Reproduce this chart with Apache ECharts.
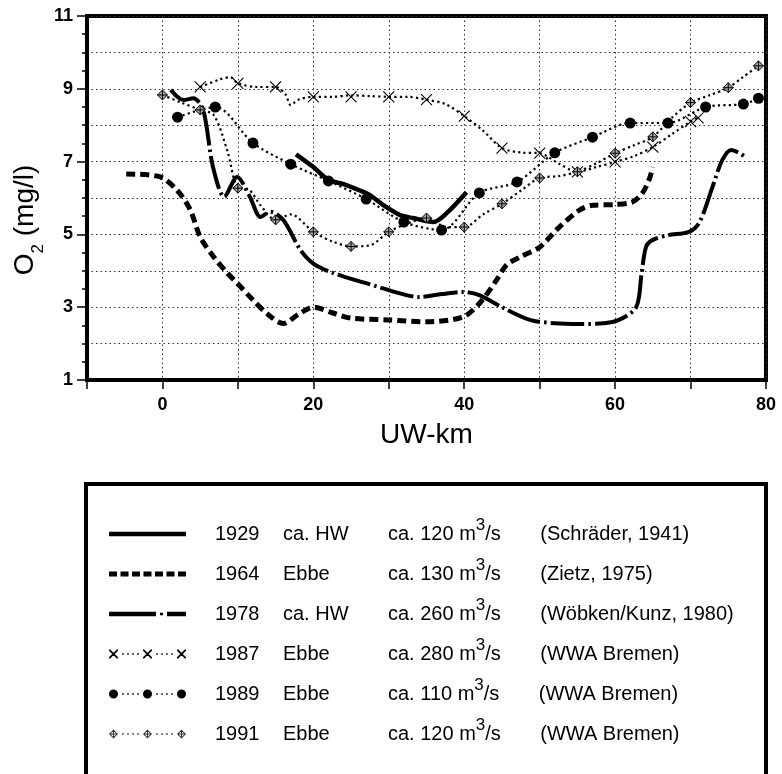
<!DOCTYPE html>
<html>
<head>
<meta charset="utf-8">
<script src="https://cdn.jsdelivr.net/npm/echarts@6/dist/echarts.min.js"></script>
<style>
  html, body { margin: 0; padding: 0; background: #fff; }
  #chart { width: 782px; height: 774px; }
</style>
</head>
<body>
<div id="chart"></div>
<script>
// Oxygen (mg/l) along the Weser, by UW-km, for six surveys.

// 1929, ca. HW (Schräder, 1941)
const x1929 = [17.7, 20, 22, 24, 26, 27.5, 29.3, 31.5, 33.2, 35.9, 37.7, 40.3];
const y1929 = [7.2, 6.85, 6.5, 6.38, 6.22, 6.08, 5.8, 5.53, 5.45, 5.34, 5.59, 6.16];

// 1964, Ebbe (Zietz, 1975)
const x1964 = [-4.8, -0.3, 2, 3.7, 5, 6.8, 8.6, 9.9, 12, 14, 16, 18, 20, 22.6, 25, 30, 35, 39.8, 42, 44.3, 45.6, 47.4, 50, 52.6, 55.3, 57, 60, 62.3, 63.6, 64.5, 65];
const y1964 = [6.66, 6.58, 6.2, 5.67, 4.93, 4.38, 3.94, 3.66, 3.2, 2.8, 2.55, 2.8, 3.0, 2.84, 2.7, 2.65, 2.6, 2.73, 3.1, 3.75, 4.16, 4.38, 4.65, 5.2, 5.67, 5.8, 5.82, 5.89, 6.13, 6.5, 6.85];

// 1978, ca. HW (Wöbken/Kunz, 1980)
const x1978 = [1.1, 2.8, 4.1, 5.4, 6.7, 8.2, 9.9, 11.6, 13, 14.3, 16, 18.3, 20, 22.6, 27, 31.5, 34, 37, 39.8, 42, 45, 48.7, 52, 55.3, 58, 60.5, 62.8, 63.5, 64.1, 65, 67, 69.8, 71.2, 72.9, 74.2, 75.4, 77.5];
const y1978 = [8.97, 8.69, 8.74, 8.42, 6.85, 6.03, 6.58, 6.03, 5.48, 5.62, 5.4, 4.57, 4.2, 3.94, 3.66, 3.38, 3.28, 3.36, 3.42, 3.33, 3.0, 2.65, 2.56, 2.54, 2.55, 2.65, 3.0, 3.9, 4.66, 4.85, 4.98, 5.07, 5.34, 6.3, 7.04, 7.32, 7.1];

// 1987, Ebbe (WWA Bremen): curve and measuring stations
const x1987 = [5, 7.5, 9, 10, 12.5, 15, 16.3, 17, 18, 20, 22.5, 25, 27.5, 30, 32.5, 35, 37.5, 40, 42.5, 45, 47.5, 50, 52.5, 55, 57.5, 60, 62.5, 65, 67.5, 70, 71];
const y1987 = [9.05, 9.25, 9.32, 9.15, 9.05, 9.05, 8.85, 8.55, 8.7, 8.78, 8.78, 8.82, 8.8, 8.78, 8.78, 8.7, 8.58, 8.25, 7.85, 7.37, 7.25, 7.23, 6.95, 6.72, 6.85, 6.99, 7.15, 7.4, 7.75, 8.1, 8.2];
const s1987x = [5, 10, 15, 20, 25, 30, 35, 40, 45, 50, 55, 60, 65, 70, 71];
const s1987y = [9.05, 9.15, 9.05, 8.78, 8.78, 8.78, 8.7, 8.25, 7.37, 7.23, 6.72, 6.99, 7.4, 8.1, 8.2];

// 1989, Ebbe (WWA Bremen)
const x1989 = [2, 7, 12, 17, 22, 27, 32, 37, 42, 47, 52, 57, 62, 67, 72, 77, 79];
const y1989 = [8.22, 8.5, 7.51, 6.93, 6.47, 5.97, 5.34, 5.12, 6.14, 6.44, 7.24, 7.67, 8.06, 8.06, 8.5, 8.58, 8.74];

// 1991, Ebbe (WWA Bremen): curve and measuring stations
const x1991 = [0, 2.5, 5, 6.8, 8.6, 10, 11.5, 13, 15, 17, 20, 22.6, 25, 27.5, 30, 32.5, 35, 37.7, 40, 42.5, 45, 47.5, 50, 52.5, 55, 57.5, 60, 62.5, 65, 67.5, 70, 72.5, 75, 77, 79];
const y1991 = [8.83, 8.62, 8.42, 8.28, 7.3, 6.27, 6.22, 5.8, 5.4, 5.55, 5.07, 4.8, 4.67, 4.7, 5.07, 5.3, 5.45, 5.2, 5.2, 5.55, 5.84, 6.2, 6.55, 6.6, 6.72, 6.95, 7.23, 7.45, 7.68, 8.2, 8.62, 8.82, 9.03, 9.33, 9.63];
const s1991x = [0, 5, 10, 15, 20, 25, 30, 35, 40, 45, 50, 55, 60, 65, 70, 75, 79];
const s1991y = [8.83, 8.42, 6.27, 5.4, 5.07, 4.67, 5.07, 5.45, 5.2, 5.84, 6.55, 6.72, 7.23, 7.68, 8.62, 9.03, 9.63];

// Legend table columns
const years   = ['1929', '1964', '1978', '1987', '1989', '1991'];
const tides   = ['ca. HW', 'Ebbe', 'ca. HW', 'Ebbe', 'Ebbe', 'Ebbe'];
const flows   = ['120', '130', '260', '280', '110', '120'];
const sources = ['(Schräder, 1941)', '(Zietz, 1975)', '(Wöbken/Kunz, 1980)', '(WWA Bremen)', '(WWA Bremen)', '(WWA Bremen)'];

// x tick labels shown every 20 km
const xLabelStep = 20;

const pts = (xs, ys) => xs.map((x, i) => [x, ys[i]]);

const FONT = "'Liberation Sans', Arial, Helvetica, sans-serif";

// ---- legend sample glyphs (filled paths, 77 px wide) ----
const R = (x, y, w, h) => `M${x} ${y}h${w}v${h}h${-w}Z`;
function dotRow(x0, x1, cy) {
  let p = '';
  const n = Math.max(2, Math.round((x1 - x0) / 4.6));
  const st = (x1 - x0) / n;
  for (let i = 1; i < n; i++) { const cx = x0 + i * st; p += R(cx - 0.8, cy - 0.8, 1.6, 1.6); }
  return p;
}
function xMark(cx, cy, r, t) {
  const a = cx - r, b = cy - r, s = 2 * r;
  return `M${a} ${b}L${a + t} ${b}L${a + s} ${b + s - t}L${a + s} ${b + s}L${a + s - t} ${b + s}L${a} ${b + t}Z` +
         `M${a + s - t} ${b}L${a + s} ${b}L${a + s} ${b + t}L${a + t} ${b + s}L${a} ${b + s}L${a} ${b + s - t}Z`;
}
function disc(cx, cy, r) {
  return `M${cx - r} ${cy}A${r} ${r} 0 1 1 ${cx + r} ${cy}A${r} ${r} 0 1 1 ${cx - r} ${cy}Z`;
}
function rhomb(cx, cy, r) {
  const ri = r - 1.3;
  return `M${cx} ${cy - r}L${cx + r} ${cy}L${cx} ${cy + r}L${cx - r} ${cy}Z` +
         `M${cx} ${cy - ri}L${cx - ri} ${cy}L${cx} ${cy + ri}L${cx + ri} ${cy}Z` +
         R(cx - 0.5, cy - ri, 1, 2 * ri) + R(cx - ri, cy - 0.5, 2 * ri, 1);
}
function markedRow(mark, r) {
  const c = [r, 38.5, 77 - r];
  return mark(c[0], 4.5, r, 1.2) + dotRow(c[0] + r, c[1] - r, 4.5) + mark(c[1], 4.5, r, 1.2) +
         dotRow(c[1] + r, c[2] - r, 4.5) + mark(c[2], 4.5, r, 1.2);
}
let dashes = '';
for (let i = 0; i < 7; i++) dashes += R(i * 11.5, 0, 8, 5);
const icons = [
  'path://' + R(0, 0, 77, 4.5),
  'path://' + dashes,
  'path://' + R(0, 0, 47, 4.5) + R(51, 1, 3, 2.5) + R(58, 0, 19, 4.5),
  'path://' + markedRow(xMark, 4.5),
  'path://' + markedRow((cx, cy, r) => disc(cx, cy, r), 4.5),
  'path://' + markedRow((cx, cy, r) => rhomb(cx, cy, r), 4.5)
];

const gridLine = { show: true, lineStyle: { color: '#333', width: 1, type: [1.5, 3] } };
const dotted = { color: '#000', width: 2.2, type: [2.2, 3.2] };
const tickFont = { fontSize: 18, fontWeight: 'bold', color: '#000', fontFamily: FONT };

const chart = echarts.init(document.getElementById('chart'), null, { renderer: 'canvas' });
chart.setOption({
  animation: false,
  backgroundColor: '#fff',
  textStyle: { fontFamily: FONT, color: '#000' },
  grid: {
    left: 87, top: 16, width: 679, height: 364,
    show: true, borderColor: '#000', borderWidth: 4, backgroundColor: 'transparent',
    outerBoundsMode: 'none'
  },
  xAxis: {
    type: 'value', min: -10, max: 80, interval: 10,
    name: 'UW-km', nameLocation: 'middle', nameGap: 41, nameMoveOverlap: false,
    nameTextStyle: { fontSize: 28, color: '#000', fontFamily: FONT },
    axisLine: { show: true, onZero: false, lineStyle: { color: '#000', width: 4 } },
    axisTick: { show: true, length: 9, lineStyle: { color: '#000', width: 1.5 } },
    axisLabel: Object.assign({ show: true, margin: 16,
      formatter: v => (v % xLabelStep === 0 ? String(v) : '') }, tickFont),
    splitLine: gridLine
  },
  yAxis: [
    {
      type: 'value', min: 1, max: 11, interval: 1,
      axisLine: { show: true, onZero: false, lineStyle: { color: '#000', width: 4 } },
      axisTick: { show: true, length: 5, lineStyle: { color: '#000', width: 1.5 } },
      minorTick: { show: true, splitNumber: 2, length: 5, lineStyle: { color: '#000', width: 1.5 } },
      axisLabel: { show: false },
      splitLine: gridLine
    },
    {
      type: 'value', min: 1, max: 11, interval: 2, position: 'left', offset: 0,
      name: '{o|O}{s|2}{o| (mg/l)}', nameLocation: 'middle', nameGap: 40, nameMoveOverlap: false,
      nameTextStyle: {
        color: '#000', fontFamily: FONT, padding: [0, 44, 0, 0],
        rich: {
          o: { fontSize: 28, lineHeight: 44, fontFamily: FONT, color: '#000' },
          s: { fontSize: 17, lineHeight: 16, verticalAlign: 'bottom', fontFamily: FONT, color: '#000' }
        }
      },
      axisLine: { show: false, onZero: false },
      axisTick: { show: true, length: 10, lineStyle: { color: '#000', width: 1.5 } },
      axisLabel: Object.assign({ show: true, margin: 14 }, tickFont),
      splitLine: { show: false }
    }
  ],
  legend: {
    left: 109, top: 517, orient: 'vertical', padding: 0,
    itemWidth: 77, itemHeight: 12, itemGap: 13,
    selectedMode: false, symbolKeepAspect: true,
    itemStyle: { borderWidth: 0 },
    data: years.map((y, i) => ({ name: y, icon: icons[i], itemStyle: { color: i === 5 ? '#333' : '#000', borderWidth: 0 } })),
    formatter: name => {
      const i = years.indexOf(name);
      return `{sp|}{y|${name}}{t|${tides[i]}}{f|ca. ${flows[i]} m}{s|3}{u|/s}{r|${sources[i]}}`;
    },
    textStyle: {
      fontFamily: FONT, color: '#000', fontSize: 20,
      rich: {
        sp: { width: 24, lineHeight: 34 },
        y: { width: 68, fontSize: 20, lineHeight: 34, fontFamily: FONT, color: '#000' },
        t: { width: 105, fontSize: 20, lineHeight: 34, fontFamily: FONT, color: '#000' },
        f: { fontSize: 20, lineHeight: 34, fontFamily: FONT, color: '#000' },
        s: { fontSize: 17, lineHeight: 12, verticalAlign: 'top', fontFamily: FONT, color: '#000' },
        u: { width: 55, fontSize: 20, lineHeight: 34, fontFamily: FONT, color: '#000' },
        r: { fontSize: 20, lineHeight: 34, fontFamily: FONT, color: '#000' }
      }
    }
  },
  graphic: [
    { type: 'rect', silent: true, shape: { x: 86, y: 484, width: 680, height: 300 },
      style: { fill: 'none', stroke: '#000', lineWidth: 4 } }
  ],
  series: [
    { name: '1929', type: 'line', data: pts(x1929, y1929), smooth: 0.3, symbol: 'none', silent: true,
      itemStyle: { color: '#000' }, lineStyle: { color: '#000', width: 4.5 } },
    { name: '1964', type: 'line', data: pts(x1964, y1964), smooth: 0.3, symbol: 'none', silent: true,
      itemStyle: { color: '#000' }, lineStyle: { color: '#000', width: 5, type: [9, 5], cap: 'butt' } },
    { name: '1978', type: 'line', data: pts(x1978, y1978), smooth: 0.3, symbol: 'none', silent: true,
      itemStyle: { color: '#000' }, lineStyle: { color: '#000', width: 4, type: [34, 4, 2.5, 4], cap: 'butt' } },
    { name: '1987', type: 'line', data: pts(x1987, y1987), smooth: 0.3, symbol: 'none', silent: true,
      itemStyle: { color: '#000' }, lineStyle: dotted },
    { name: '1989', type: 'line', data: pts(x1989, y1989), smooth: 0.3, symbol: 'none', silent: true,
      itemStyle: { color: '#000' }, lineStyle: dotted },
    { name: '1991', type: 'line', data: pts(x1991, y1991), smooth: 0.3, symbol: 'none', silent: true,
      itemStyle: { color: '#000' }, lineStyle: dotted },
    { name: '1987', type: 'scatter', data: pts(s1987x, s1987y), silent: true, z: 5,
      symbol: 'path://M0 0L10 10M10 0L0 10', symbolSize: 11,
      itemStyle: { color: 'none', borderColor: '#000', borderWidth: 1.1, opacity: 1 } },
    { name: '1989', type: 'scatter', data: pts(x1989, y1989), silent: true, z: 5,
      symbol: 'circle', symbolSize: 11,
      itemStyle: { color: '#000', opacity: 1 } },
    { name: '1991', type: 'scatter', data: pts(s1991x, s1991y), silent: true, z: 5,
      symbol: 'path://M5 0L10 5L5 10L0 5Z M5 0L5 10M0 5L10 5', symbolSize: 10,
      itemStyle: { color: '#a8a8a8', borderColor: '#000', borderWidth: 1, opacity: 1 } }
  ]
});
</script>
</body>
</html>
